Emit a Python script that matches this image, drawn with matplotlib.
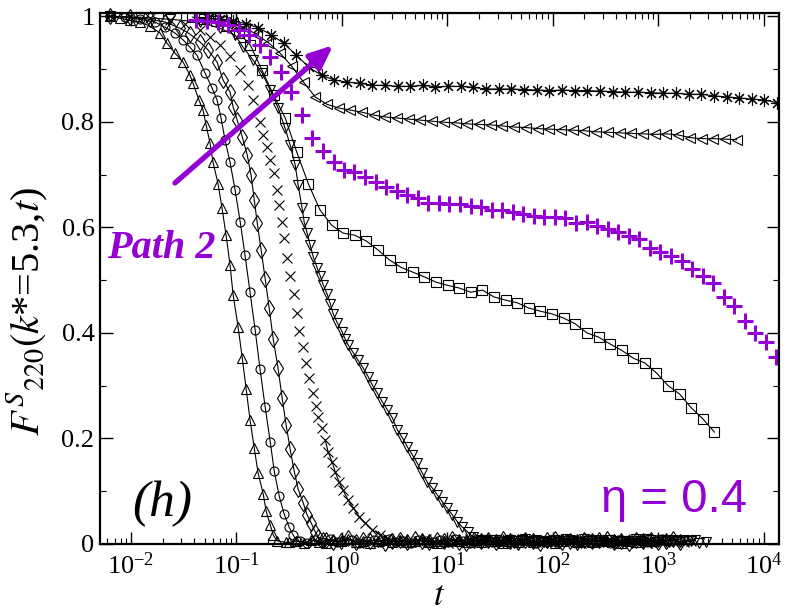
import numpy as np
import matplotlib
matplotlib.use('Agg')
import matplotlib.pyplot as plt
from matplotlib.ticker import LogLocator, NullFormatter

plt.rcParams['font.family'] = 'Liberation Serif'
plt.rcParams['mathtext.fontset'] = 'stix'

purple = '#9400D3'

# up triangles
t_up = [0.0063, 0.0079, 0.0098, 0.0122, 0.0152, 0.0189, 0.022, 0.0262, 0.0313, 0.0364,
        0.0389, 0.0443, 0.0484, 0.0517, 0.0564, 0.0602, 0.0672, 0.0733, 0.080, 0.0873,
        0.0933, 0.104, 0.114, 0.124, 0.135, 0.148, 0.161, 0.180, 0.192, 0.210,
        0.224, 0.244, 0.297]
f_up = [1.0, 0.996, 0.992, 0.989, 0.981, 0.968, 0.949, 0.930, 0.913, 0.888,
        0.873, 0.841, 0.822, 0.794, 0.759, 0.723, 0.682, 0.636, 0.585, 0.528,
        0.472, 0.411, 0.352, 0.294, 0.235, 0.182, 0.134, 0.095, 0.062, 0.036,
        0.017, 0.006, 0.003]

# circles
t_circ = [0.0063, 0.0088, 0.0122, 0.0169, 0.0211, 0.0262, 0.0313, 0.0364, 0.0424, 0.0506,
          0.0589, 0.0657, 0.0717, 0.0783, 0.0873, 0.0975, 0.109, 0.121, 0.135, 0.151,
          0.168, 0.188, 0.210, 0.229, 0.255, 0.284, 0.317, 0.346, 0.378]
f_circ = [1.0, 0.998, 0.994, 0.989, 0.979, 0.968, 0.955, 0.941, 0.926, 0.892,
          0.864, 0.841, 0.807, 0.765, 0.723, 0.670, 0.610, 0.547, 0.477, 0.405,
          0.331, 0.259, 0.193, 0.138, 0.091, 0.057, 0.032, 0.017, 0.005]

# diamonds
t_diam = [0.0063, 0.0098, 0.0152, 0.0211, 0.0293, 0.0364, 0.0453, 0.054, 0.0657, 0.0749,
          0.0873, 0.0933, 0.102, 0.114, 0.127, 0.138, 0.148, 0.158, 0.172, 0.188,
          0.205, 0.224, 0.249, 0.272, 0.297, 0.324, 0.354, 0.386, 0.431, 0.470,
          0.513, 0.560, 0.598, 0.667]
f_diam = [1.0, 0.998, 0.994, 0.989, 0.977, 0.966, 0.951, 0.936, 0.913, 0.879,
          0.856, 0.828, 0.803, 0.771, 0.737, 0.699, 0.652, 0.608, 0.557, 0.502,
          0.447, 0.388, 0.333, 0.277, 0.225, 0.180, 0.138, 0.104, 0.078, 0.055,
          0.040, 0.023, 0.013, 0.007]

# crosses
t_x = [0.0063, 0.0098, 0.0152, 0.0235, 0.0326, 0.0453, 0.0564, 0.0702, 0.0873, 0.109,
       0.129, 0.144, 0.168, 0.180, 0.196, 0.210, 0.229, 0.244, 0.255, 0.272,
       0.284, 0.303, 0.324, 0.354, 0.378, 0.395, 0.431, 0.460, 0.491, 0.536,
       0.573, 0.598, 0.653, 0.697, 0.744, 0.812, 0.868, 0.947, 1.03, 1.15,
       1.29, 1.47, 1.67, 1.95, 2.32, 2.71, 3.37]
f_x = [1.0, 0.998, 0.996, 0.992, 0.985, 0.973, 0.960, 0.945, 0.924, 0.898,
       0.869, 0.841, 0.799, 0.775, 0.752, 0.727, 0.703, 0.670, 0.642, 0.610,
       0.580, 0.542, 0.508, 0.473, 0.438, 0.403, 0.373, 0.343, 0.314, 0.286,
       0.261, 0.241, 0.220, 0.197, 0.174, 0.155, 0.136, 0.117, 0.102, 0.083,
       0.068, 0.051, 0.040, 0.027, 0.017, 0.011, 0.005]

# down triangles
t_down = [0.0063, 0.0122, 0.0235, 0.0453, 0.0702, 0.0975, 0.116, 0.144, 0.176, 0.210,
          0.249, 0.290, 0.324, 0.362, 0.386, 0.421, 0.440, 0.470, 0.502, 0.536,
          0.585, 0.625, 0.667, 0.728, 0.778, 0.830, 0.906, 1.01, 1.08, 1.15,
          1.29, 1.43, 1.60, 1.79, 1.95, 2.17, 2.43, 2.71, 3.02, 3.37,
          3.76, 4.19, 4.67, 5.21, 5.81, 6.48, 7.23, 8.07, 9.00, 10.0,
          11.2, 12.5, 13.9, 15.6, 17.7, 20.7]
f_down = [1.0, 0.998, 0.994, 0.989, 0.977, 0.964, 0.941, 0.917, 0.892, 0.860,
          0.826, 0.788, 0.756, 0.718, 0.680, 0.636, 0.610, 0.589, 0.566, 0.544,
          0.523, 0.508, 0.491, 0.473, 0.455, 0.436, 0.419, 0.402, 0.388, 0.377,
          0.362, 0.348, 0.333, 0.316, 0.301, 0.286, 0.269, 0.254, 0.239, 0.216,
          0.201, 0.184, 0.169, 0.153, 0.134, 0.117, 0.106, 0.093, 0.080, 0.068,
          0.055, 0.042, 0.032, 0.023, 0.013, 0.008]

# squares
t_sq = [0.0384, 0.0494, 0.0637, 0.0820, 0.106, 0.136, 0.175, 0.226, 0.291, 0.375,
        0.483, 0.622, 0.802, 1.03, 1.33, 1.71, 2.21, 2.84, 3.66, 4.72,
        6.08, 7.83, 10.1, 13.0, 16.7, 21.6, 27.8, 35.8, 46.1, 59.4,
        76.6, 98.6, 127, 164, 211, 272, 350, 451, 581, 748,
        964, 1242, 1600, 2061, 2655, 3420]
f_sq = [0.998, 0.995, 0.990, 0.982, 0.968, 0.945, 0.898, 0.850, 0.807, 0.742,
        0.682, 0.633, 0.604, 0.589, 0.585, 0.574, 0.557, 0.538, 0.524, 0.515,
        0.506, 0.496, 0.490, 0.485, 0.477, 0.481, 0.468, 0.462, 0.457, 0.447,
        0.441, 0.436, 0.428, 0.417, 0.400, 0.392, 0.379, 0.367, 0.352, 0.343,
        0.324, 0.300, 0.284, 0.258, 0.237, 0.212]

# purple pluses (Path 2)
t_plus = [0.0419, 0.0527, 0.0664, 0.0836, 0.105, 0.132, 0.167, 0.210, 0.264, 0.333,
          0.419, 0.527, 0.664, 0.836, 1.05, 1.32, 1.67, 2.10, 2.64, 3.33,
          4.19, 5.27, 6.64, 8.36, 10.5, 13.2, 16.7, 21.0, 26.4, 33.3,
          41.9, 52.7, 66.4, 83.6, 105, 132, 167, 210, 264, 333,
          419, 527, 664, 836, 1050, 1320, 1670, 2100, 2640, 3330,
          4190, 5270, 6640, 8360, 10500, 13200]
f_plus = [0.993, 0.990, 0.989, 0.983, 0.973, 0.964, 0.945, 0.922, 0.895, 0.856,
          0.812, 0.770, 0.745, 0.724, 0.708, 0.704, 0.695, 0.686, 0.676, 0.668,
          0.662, 0.655, 0.646, 0.646, 0.645, 0.644, 0.640, 0.638, 0.633, 0.633,
          0.629, 0.625, 0.621, 0.619, 0.619, 0.617, 0.608, 0.610, 0.602, 0.597,
          0.591, 0.583, 0.578, 0.561, 0.553, 0.545, 0.536, 0.521, 0.508, 0.494,
          0.468, 0.451, 0.422, 0.400, 0.383, 0.354]

# left triangles
t_left = [0.0561, 0.0724, 0.0935, 0.121, 0.156, 0.201, 0.260, 0.336, 0.434, 0.560,
          0.723, 0.933, 1.21, 1.56, 2.01, 2.59, 3.35, 4.33, 5.58, 7.21,
          9.31, 12.0, 15.5, 20.0, 25.9, 33.4, 43.2, 55.7, 71.9, 92.9,
          120, 155, 200, 258, 333, 431, 556, 718, 927, 1200,
          1550, 2000, 2580, 3330, 4300, 5550]
f_left = [0.996, 0.993, 0.987, 0.978, 0.965, 0.950, 0.930, 0.905, 0.875, 0.847,
          0.833, 0.826, 0.822, 0.818, 0.8125, 0.809, 0.807, 0.805, 0.803, 0.801,
          0.799, 0.798, 0.796, 0.795, 0.794, 0.792, 0.790, 0.789, 0.787, 0.786,
          0.785, 0.784, 0.783, 0.781, 0.780, 0.779, 0.778, 0.777, 0.776, 0.777,
          0.775, 0.770, 0.768, 0.768, 0.767, 0.766]

# asterisks
t_star = [0.0536, 0.0706, 0.0931, 0.123, 0.162, 0.213, 0.281, 0.371, 0.489, 0.644,
          0.849, 1.12, 1.48, 1.95, 2.56, 3.38, 4.46, 5.87, 7.74, 10.2,
          13.5, 17.7, 23.4, 30.8, 40.6, 53.6, 70.6, 93.1, 123, 162,
          213, 281, 371, 489, 644, 849, 1120, 1480, 1950, 2560,
          3380, 4460, 5870, 7740, 10200, 13500]
f_star = [0.996, 0.994, 0.991, 0.986, 0.978, 0.965, 0.949, 0.926, 0.903, 0.888,
          0.879, 0.875, 0.873, 0.869, 0.869, 0.867, 0.867, 0.869, 0.866, 0.867,
          0.867, 0.865, 0.862, 0.862, 0.862, 0.861, 0.860, 0.859, 0.860, 0.859,
          0.859, 0.858, 0.857, 0.856, 0.856, 0.855, 0.854, 0.854, 0.852, 0.852,
          0.849, 0.847, 0.845, 0.843, 0.841, 0.836]

# long-time plateau near zero for the fast curves (two interleaved time grids)
t_tail_a = [0.316, 0.372, 0.437, 0.513, 0.603, 0.708, 0.832, 0.977, 1.15, 1.35,
            1.58, 1.86, 2.19, 2.57, 3.02, 3.55, 4.17, 4.90, 5.75, 6.76,
            7.94, 9.33, 11.0, 12.9, 15.1, 17.8, 20.9, 24.5, 28.8, 33.9,
            39.8, 46.8, 55.0, 64.6, 75.9, 89.1, 105, 123, 145, 170,
            200, 234, 275, 324, 380, 447, 525, 617, 724, 851,
            1000, 1175, 1380, 1622, 1905, 2239, 2630]
t_tail_b = [0.343, 0.403, 0.473, 0.556, 0.653, 0.767, 0.902, 1.06, 1.24, 1.46,
            1.72, 2.02, 2.37, 2.79, 3.27, 3.85, 4.52, 5.31, 6.24, 7.33,
            8.61, 10.1, 11.9, 14.0, 16.4, 19.3, 22.6, 26.6, 31.3, 36.7,
            43.2, 50.7, 59.6, 70.0, 82.2, 96.6, 113, 134, 157, 184,
            217, 255, 299, 351, 413, 485, 570, 670, 787, 924,
            1086, 1276, 1500, 1762, 2070, 2432, 2858]
tail_up = [0.003, 0.006, 0.002, 0.008, 0.004, 0.001, 0.007, 0.005, 0.009, 0.003,
           0.006, 0.002, 0.005, 0.008, 0.004, 0.007, 0.003, 0.006, 0.010, 0.004,
           0.002, 0.006, 0.008, 0.005, 0.003, 0.007, 0.004, 0.009, 0.005, 0.002,
           0.006, 0.004, 0.008, 0.003, 0.007, 0.005, 0.002, 0.006, 0.009, 0.004,
           0.006, 0.003, 0.007, 0.005, 0.008, 0.002, 0.006, 0.004, 0.007, 0.005]
tail_circ = [0.005, 0.002, 0.007, 0.004, 0.009, 0.003, 0.006, 0.008, 0.002, 0.005,
             0.007, 0.004, 0.010, 0.003, 0.006, 0.002, 0.008, 0.005, 0.003, 0.007,
             0.004, 0.009, 0.006, 0.002, 0.005, 0.008, 0.003, 0.006, 0.004, 0.007,
             0.010, 0.005, 0.002, 0.006, 0.008, 0.004, 0.007, 0.003, 0.005, 0.009,
             0.004, 0.006, 0.002, 0.008, 0.005, 0.003, 0.007, 0.004, 0.006, 0.009, 0.005]
tail_diam = [0.008, 0.004, 0.006, 0.011, 0.003, 0.007, 0.005, 0.009, 0.002, 0.006,
             0.008, 0.004, 0.010, 0.005, 0.003, 0.007, 0.006, 0.009, 0.004, 0.002,
             0.008, 0.005, 0.007, 0.003, 0.010, 0.006, 0.004, 0.008, 0.005, 0.002,
             0.007, 0.009, 0.004, 0.006, 0.003, 0.008, 0.005, 0.007, 0.010, 0.004,
             0.006, 0.002, 0.008, 0.005, 0.007, 0.003, 0.006, 0.009, 0.004]
tail_x = [0.007, 0.003, 0.005, 0.009, 0.004, 0.006, 0.002, 0.008, 0.005, 0.010,
          0.003, 0.007, 0.004, 0.006, 0.009, 0.002, 0.005, 0.008, 0.004, 0.007,
          0.003, 0.006, 0.010, 0.005, 0.002, 0.007, 0.004, 0.008, 0.006, 0.003,
          0.009, 0.005, 0.007, 0.002, 0.006, 0.004, 0.008, 0.005, 0.003, 0.006]
tail_down = [0.006, 0.004, 0.008, 0.003, 0.007, 0.005, 0.010, 0.004, 0.006, 0.002,
             0.008, 0.005, 0.007, 0.003, 0.009, 0.006, 0.004, 0.008, 0.002, 0.006,
             0.005, 0.009, 0.003, 0.007, 0.004, 0.006, 0.008, 0.003, 0.005, 0.007]


def with_tail(t, f, grid, ys):
    ts = [v for v in grid if v > t[-1]][:len(ys)]
    return np.array(t + ts), np.array(f + ys[:len(ts)])


fig = plt.figure(figsize=(7.92, 6.12), dpi=100)
ax = fig.add_axes([100 / 792, 1 - 544 / 612, 679 / 792, 531 / 612])

open_kw = dict(mfc='none', mec='k', mew=0.8, color='k', lw=0.8)

# fast curves: markers may spill slightly over the bottom axis, as in the original
tt, ff = with_tail(t_up, f_up, t_tail_a, tail_up)
ax.plot(tt, ff, '-', marker='^', ms=7.5, clip_on=False, **open_kw)
tt, ff = with_tail(t_circ, f_circ, t_tail_b, tail_circ)
ax.plot(tt, ff, '-', marker='o', ms=6.5, clip_on=False, **open_kw)
tt, ff = with_tail(t_diam, f_diam, t_tail_a, tail_diam)
ax.plot(tt, ff, '-', marker='d', ms=8.5, clip_on=False, **open_kw)
tt, ff = with_tail(t_x, f_x, t_tail_b, tail_x)
ax.plot(tt, ff, ls='none', marker='x', ms=7, mec='k', mew=0.8, clip_on=False)
low = np.argmax(ff < 0.22)
ax.plot(tt[low:], ff[low:], '-', color='k', lw=0.8)
tt, ff = with_tail(t_down, f_down, t_tail_a, tail_down)
ax.plot(tt, ff, '-', marker='v', ms=7.5, clip_on=False, **open_kw)
tt, ff = with_tail(t_down, f_down, t_tail_b, tail_up[::-1])
ax.plot(tt[len(t_down):], ff[len(t_down):], ls='none', marker='v', ms=7.5,
        mfc='none', mec='k', mew=0.8, clip_on=False)

ax.plot(t_sq, f_sq, '-', marker='s', ms=7, **open_kw)
ax.plot(t_left, f_left, '-', marker='<', ms=7.5, **open_kw)
ax.plot(t_star, f_star, '-', marker=(8, 2, 0), ms=9, **open_kw)
ax.plot(t_plus, f_plus, ls='none', marker='+', ms=11, mew=2.2, color=purple)

# path arrow
ax.annotate('', xy=(0.83, 0.945), xytext=(0.0262, 0.684),
            arrowprops=dict(arrowstyle='-|>,head_length=0.7,head_width=0.3',
                            color=purple, lw=3.8, mutation_scale=20,
                            shrinkA=0, shrinkB=0), zorder=10)

ax.set_xscale('log')
ax.set_xlim(5.1e-3, 1.4e4)
ax.set_ylim(0, 1.006)
ax.set_xticks([1e-2, 1e-1, 1e0, 1e1, 1e2, 1e3, 1e4])
ax.xaxis.set_minor_locator(LogLocator(base=10, subs=np.arange(2, 10), numticks=30))
ax.xaxis.set_minor_formatter(NullFormatter())
ax.set_yticks([0, 0.2, 0.4, 0.6, 0.8, 1.0])
ax.set_yticklabels(['0', '0.2', '0.4', '0.6', '0.8', '1'])
ax.set_yticks([0.1, 0.3, 0.5, 0.7, 0.9], minor=True)
ax.tick_params(which='both', direction='in', top=True, right=True, labelsize=19)
ax.tick_params(which='major', length=9, width=1)
ax.tick_params(which='minor', length=4.5, width=0.8)
ax.tick_params(axis='x', pad=6)
ax.tick_params(axis='y', pad=4)
for s in ax.spines.values():
    s.set_linewidth(1.6)
    s.set_zorder(5)

ax.set_xlabel('$t$', fontsize=25, labelpad=1)
fig.text(27 / 792, 1 - 312 / 612, r'$F^{S}{}_{\mathit{220}}(k$*=5.3,$t$)', fontsize=29,
         rotation=90, ha='center', va='center')

fig.text(107 / 792, 1 - 258 / 612, 'Path 2', fontsize=29, fontweight='bold',
         fontstyle='italic', color=purple, ha='left', va='baseline')
fig.text(132 / 792, 1 - 516 / 612, '(h)', fontsize=37, fontstyle='italic',
         ha='left', va='baseline')
fig.text(601 / 792, 1 - 512 / 612, 'η = 0.4', fontsize=34, family='Liberation Sans',
         color=purple, ha='left', va='baseline')

fig.savefig('out.png', dpi=100)
